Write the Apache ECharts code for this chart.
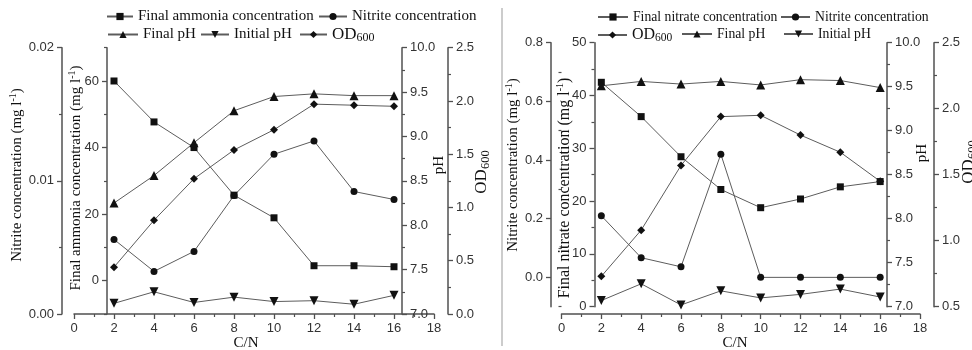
<!DOCTYPE html>
<html><head><meta charset="utf-8">
<script src="https://cdn.jsdelivr.net/npm/echarts@6/dist/echarts.min.js"></script>
<style>html,body{margin:0;padding:0;background:#fff}#c{width:972px;height:350px}</style>
</head><body><div id="c"></div>
<script>
// ---- data ----
const cn = [2, 4, 6, 8, 10, 12, 14, 16];
// left panel
const ammoniaFinal   = [60, 47.7, 40, 25.7, 18.9, 4.5, 4.5, 4.2];
const nitriteLeft    = [0.0056, 0.0032, 0.0047, 0.0089, 0.0120, 0.0130, 0.0092, 0.0086];
const finalPHLeft    = [8.25, 8.56, 8.93, 9.29, 9.45, 9.48, 9.46, 9.46];
const initialPHLeft  = [7.12, 7.25, 7.13, 7.19, 7.14, 7.15, 7.11, 7.21];
const odLeft         = [0.44, 0.88, 1.27, 1.54, 1.73, 1.97, 1.96, 1.95];
// right panel
const nitrateFinal   = [42.5, 36.0, 28.4, 22.2, 18.75, 20.4, 22.7, 23.7];
const nitriteRight   = [0.21, 0.067, 0.036, 0.42, 0, 0, 0, 0];
const odRight        = [0.73, 1.08, 1.57, 1.94, 1.95, 1.80, 1.67, 1.45];
const finalPHRight   = [9.51, 9.56, 9.53, 9.56, 9.52, 9.58, 9.57, 9.49];
const initialPHRight = [7.07, 7.26, 7.02, 7.18, 7.10, 7.14, 7.20, 7.11];
// tick labels
const ammoniaTicks = [0, 20, 40, 60];
const ammoniaMinor = [-10, 10, 30, 50, 70];
const nitriteRTicks = [0, 0.2, 0.4, 0.6, 0.8];
const nitriteRMinor = [-0.1, 0.1, 0.3, 0.5, 0.7];

const SERIF = '"Liberation Serif", "Times New Roman", serif';
const SANS = '"Liberation Sans", Arial, sans-serif';
const AX = '#505050';
const LBL = {color: '#333', fontFamily: SANS, fontSize: 13, margin: 8};
function yAx(o) {
  return Object.assign({
    type: 'value', splitLine: {show: false},
    axisLine: {show: true, onZero: false, lineStyle: {color: AX, width: 1.5}},
    axisTick: {show: true, length: 5, lineStyle: {color: AX, width: 1.3}},
    minorTick: {show: true, splitNumber: 2, length: 3, lineStyle: {color: AX, width: 1.2}},
    axisLabel: Object.assign({formatter: v => v.toFixed(1)}, LBL)
  }, o);
}
function xAx(o) {
  return Object.assign({
    type: 'value', min: 0, max: 18, interval: 2, splitLine: {show: false},
    axisLine: {show: true, onZero: false, lineStyle: {color: AX, width: 1.5}},
    axisTick: {show: true, length: 5, lineStyle: {color: AX, width: 1.3}},
    minorTick: {show: true, splitNumber: 2, length: 3, lineStyle: {color: AX, width: 1.2}},
    axisLabel: Object.assign({}, LBL)
  }, o);
}
const pairs = arr => cn.map((x, i) => [x, arr[i]]);
function ser(name, arr, xi, yi, symbol, size, rot) {
  return {
    name, type: 'line', xAxisIndex: xi, yAxisIndex: yi, data: pairs(arr),
    symbol, symbolSize: size, symbolRotate: rot || 0,
    itemStyle: {color: '#111'}, lineStyle: {color: '#5c5c5c', width: 1},
    emphasis: {disabled: true}, animation: false, z: 3
  };
}
const labels = {
  L_amm: 'Final ammonia concentration', L_nit: 'Nitrite concentration',
  L_fph: 'Final pH', L_iph: 'Initial pH', L_od: '{a|OD}{b|600}',
  R_nat: 'Final nitrate concentration', R_nit: 'Nitrite concentration',
  R_od: '{c|OD}{d|600}', R_fph: 'Final pH', R_iph: 'Initial pH'
};
// name, left, top, icon width, font size
const legendPos = [
  ['L_amm', 106, 9, 26, 15], ['L_nit', 318, 9, 28, 15],
  ['L_fph', 107, 27, 30, 15], ['L_iph', 200, 27, 28, 15], ['L_od', 299, 26, 27, 15],
  ['R_nat', 597, 10, 30, 13.7], ['R_nit', 780, 10, 29, 13.7],
  ['R_od', 597, 27, 29, 13.7], ['R_fph', 681, 27, 30, 13.7], ['R_iph', 783, 27, 29, 13.7]
];
const legends = legendPos.map(([n, l, t, w, fs]) => ({
  data: [n], left: l, top: t, padding: 0, itemWidth: w, itemHeight: 9,
  selectedMode: false, formatter: nm => labels[nm],
  textStyle: {fontFamily: SERIF, fontSize: fs, color: '#111',
    rich: {a: {fontFamily: SERIF, fontSize: 17, color: '#111', lineHeight: 19},
           b: {fontFamily: SERIF, fontSize: 12, color: '#111', lineHeight: 12, verticalAlign: 'bottom'},
           c: {fontFamily: SERIF, fontSize: 16, color: '#111', lineHeight: 18},
           d: {fontFamily: SERIF, fontSize: 11.5, color: '#111', lineHeight: 11, verticalAlign: 'bottom'}}}
}));

function richName(fs, sub) {
  return {
    a: {fontFamily: SERIF, fontSize: fs, fill: '#111', lineHeight: fs + 3},
    s: {fontFamily: SERIF, fontSize: 10, fill: '#111', lineHeight: 10, verticalAlign: 'top'},
    b: {fontFamily: SERIF, fontSize: sub || 10, fill: '#111', lineHeight: sub || 10, verticalAlign: 'bottom'}
  };
}
function vText(x, y, text, fs, sub) {
  fs = fs || 15;
  return {type: 'text', x, y, rotation: Math.PI / 2, z: 10,
    style: {text, rich: richName(fs, sub), align: 'center', verticalAlign: 'middle', fill: '#111',
      font: fs + 'px "Liberation Serif"'}};
}
function hText(x, y, text) {
  return {type: 'text', x, y, z: 10,
    style: {text, align: 'center', verticalAlign: 'middle', fill: '#111', font: '15px "Liberation Serif"'}};
}

const option = {
  animation: false,
  textStyle: {fontFamily: SANS},
  grid: [
    {left: 74, right: 538, top: 47.7, bottom: 36},
    {left: 561.5, right: 52, top: 42.7, bottom: 43.3},
    {left: 561.5, right: 52, top: 42.7, bottom: 36}
  ],
  xAxis: [
    xAx({gridIndex: 0}),
    xAx({gridIndex: 1, show: false}),
    xAx({gridIndex: 2})
  ],
  yAxis: [
    yAx({gridIndex: 0, position: 'left', offset: 12, min: 0, max: 0.02, interval: 0.01,
      axisLabel: Object.assign({formatter: v => v.toFixed(2)}, LBL)}),
    yAx({gridIndex: 0, position: 'left', offset: -33, min: -10, max: 70,
      minorTick: {show: false},
      axisTick: {show: true, length: 5, customValues: ammoniaTicks, lineStyle: {color: AX, width: 1.3}},
      axisLabel: Object.assign({customValues: ammoniaTicks, formatter: v => String(Math.round(v))}, LBL)}),
    yAx({gridIndex: 0, position: 'right', offset: -32, min: 7, max: 10, interval: 0.5}),
    yAx({gridIndex: 0, position: 'right', offset: 14, min: 0, max: 2.5, interval: 0.5}),
    yAx({gridIndex: 1, position: 'left', offset: 10.5, min: -0.1, max: 0.8,
      minorTick: {show: false},
      axisTick: {show: true, length: 5, customValues: nitriteRTicks, lineStyle: {color: AX, width: 1.3}},
      axisLabel: Object.assign({customValues: nitriteRTicks, formatter: v => v.toFixed(1)}, LBL)}),
    yAx({gridIndex: 1, position: 'left', offset: -33, min: 0, max: 50, interval: 10,
      axisLabel: Object.assign({formatter: v => String(v)}, LBL)}),
    yAx({gridIndex: 1, position: 'right', offset: -33, min: 7, max: 10, interval: 0.5}),
    yAx({gridIndex: 1, position: 'right', offset: 14, min: 0.5, max: 2.5, interval: 0.5}),
    {gridIndex: 2, type: 'value', show: false},
    // minor tick companions
    yAx({gridIndex: 0, position: 'left', offset: -33, min: -10, max: 70, axisLine: {show: false},
      minorTick: {show: false}, axisLabel: {show: false},
      axisTick: {show: true, length: 3, customValues: ammoniaMinor, lineStyle: {color: AX, width: 1.2}}}),
    yAx({gridIndex: 1, position: 'left', offset: 10.5, min: -0.1, max: 0.8, axisLine: {show: false},
      minorTick: {show: false}, axisLabel: {show: false},
      axisTick: {show: true, length: 3, customValues: nitriteRMinor, lineStyle: {color: AX, width: 1.2}}})
  ],
  legend: legends,
  series: [
    ser('L_amm', ammoniaFinal, 0, 1, 'rect', 7),
    ser('L_nit', nitriteLeft, 0, 0, 'circle', 7),
    ser('L_fph', finalPHLeft, 0, 2, 'triangle', 9),
    ser('L_iph', initialPHLeft, 0, 2, 'triangle', 9, 180),
    ser('L_od', odLeft, 0, 3, 'diamond', 8),
    ser('R_nat', nitrateFinal, 1, 5, 'rect', 7),
    ser('R_nit', nitriteRight, 1, 4, 'circle', 7),
    ser('R_od', odRight, 1, 7, 'diamond', 8),
    ser('R_fph', finalPHRight, 1, 6, 'triangle', 9),
    ser('R_iph', initialPHRight, 1, 6, 'triangle', 9, 180)
  ],
  graphic: [
    {type: 'line', shape: {x1: 502, y1: 8, x2: 502, y2: 346}, style: {stroke: '#999', lineWidth: 1}},
    vText(17, 175, '{a|Nitrite concentration (mg l}{s|-1}{a|)}'),
    vText(76, 178, '{a|Final ammonia concentration (mg l}{s|-1}{a|)}'),
    vText(439, 165, '{a|pH}'),
    vText(482, 172, '{a|OD}{b|600}', 17, 12.5),
    hText(246, 343, 'C/N'),
    vText(513, 165, '{a|Nitrite concentration (mg l}{s|-1}{a|)}'),
    vText(565, 188, '{a|Final nitrate concentration (mg l}{s|-1}{a|)}', 16),
    vText(922, 153, '{a|pH}'),
    vText(969, 162, '{a|OD}{b|600}', 17, 12.5),
    hText(735, 343, 'C/N')
  ]
};
const chart = echarts.init(document.getElementById('c'), null, {renderer: 'canvas'});
chart.setOption(option);
</script>
</body></html>
